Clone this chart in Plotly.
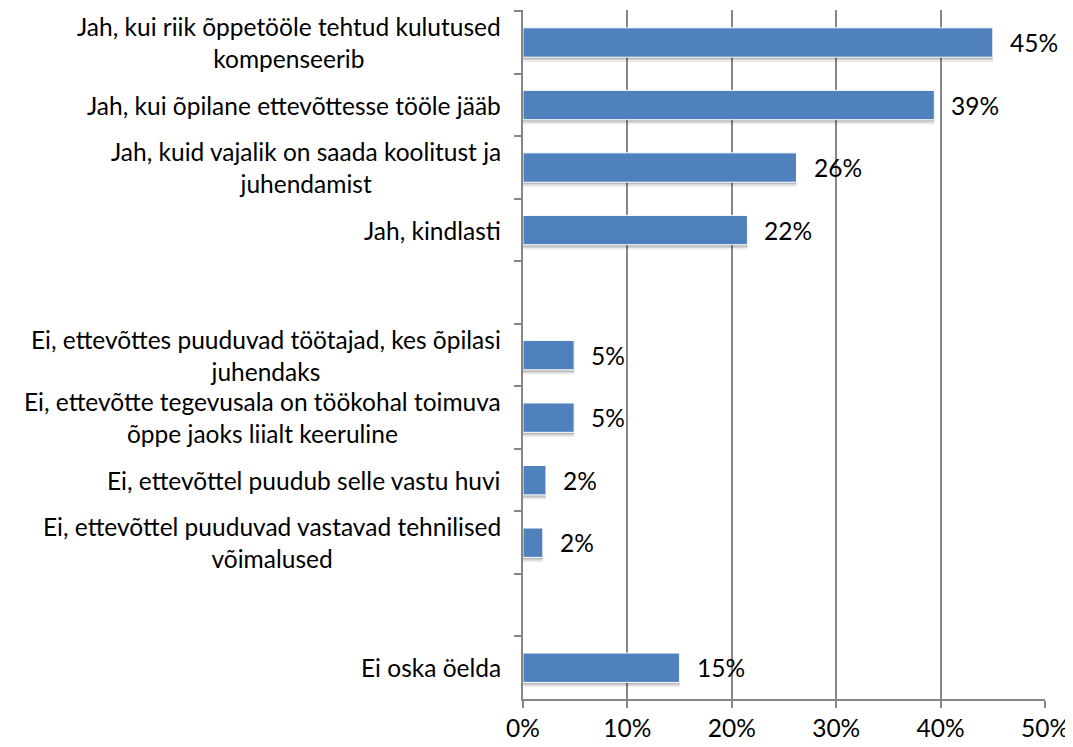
import plotly.graph_objects as go

categories = [
    "Jah, kui riik õppetööle tehtud kulutused<br>kompenseerib",
    "Jah, kui õpilane ettevõttesse tööle jääb",
    "Jah, kuid vajalik on saada koolitust ja<br>juhendamist",
    "Jah, kindlasti",
    " ",
    "Ei, ettevõttes puuduvad töötajad, kes õpilasi<br>juhendaks",
    "Ei, ettevõtte tegevusala on töökohal toimuva<br>õppe jaoks liialt keeruline",
    "Ei, ettevõttel puudub selle vastu huvi",
    "Ei, ettevõttel puuduvad vastavad tehnilised<br>võimalused",
    "  ",
    "Ei oska öelda",
]
values = [0.450, 0.394, 0.262, 0.215, None, 0.049, 0.049, 0.022, 0.019, None, 0.150]
value_labels = ["45%", "39%", "26%", "22%", "", "5%", "5%", "2%", "2%", "", "15%"]
x_ticks = [0, 0.1, 0.2, 0.3, 0.4, 0.5]
x_tick_labels = ["0%", "10%", "20%", "30%", "40%", "50%"]

FONT = "Lato"
FS = 24.5
BAR_W = 0.47
GRID = "#868686"

fig = go.Figure()

# soft shadow layers below bars
for shift, alpha in [(0.075, 0.07), (0.05, 0.10), (0.03, 0.12)]:
    fig.add_trace(go.Bar(
        x=values, y=categories, orientation="h",
        width=BAR_W, offset=-BAR_W / 2 + shift,
        marker=dict(color=f"rgba(0,0,0,{alpha})", line=dict(width=0)),
        hoverinfo="skip", showlegend=False,
    ))

fig.add_trace(go.Bar(
    x=values, y=categories, orientation="h",
    width=BAR_W, offset=-BAR_W / 2,
    marker=dict(color="#4F81BD", line=dict(color="#FFFFFF", width=1)),
    showlegend=False,
))

annotations = []
for cat, v, lab in zip(categories, values, value_labels):
    if v is not None:
        annotations.append(dict(
            x=v, y=cat, xref="x", yref="y", text=lab, showarrow=False,
            xanchor="left", yanchor="middle", xshift=15,
            font=dict(family=FONT, size=FS, color="#000000"),
        ))
    if cat.strip():
        annotations.append(dict(
            x=0, y=cat, xref="paper", yref="y", text=cat, showarrow=False,
            xanchor="right", yanchor="middle", xshift=-20, align="center",
            font=dict(family=FONT, size=FS, color="#000000"),
        ))

# page body has an 8px default margin; size the figure to fit inside
fig.update_layout(
    width=1065, height=739,
    margin=dict(l=515, r=28, t=2, b=48),
    paper_bgcolor="white", plot_bgcolor="white",
    barmode="overlay",
    annotations=annotations,
    font=dict(family=FONT, size=FS, color="#000000"),
)
fig.update_xaxes(
    range=[0, 0.5], tickvals=x_ticks, ticktext=x_tick_labels,
    showgrid=True, gridcolor=GRID, gridwidth=2,
    showline=True, linecolor=GRID, linewidth=2,
    ticks="outside", ticklen=7, tickcolor=GRID, tickwidth=2,
    tickfont=dict(family=FONT, size=FS, color="#000000"),
    zeroline=False, fixedrange=True, automargin=False,
)
fig.update_yaxes(
    type="category", categoryorder="array", categoryarray=categories,
    autorange="reversed",
    showticklabels=False, showgrid=False,
    showline=True, linecolor=GRID, linewidth=2,
    ticks="outside", ticklen=7, tickcolor=GRID, tickwidth=2, tickson="boundaries",
    zeroline=False, fixedrange=True, automargin=False,
)

fig.write_html("out.html")
